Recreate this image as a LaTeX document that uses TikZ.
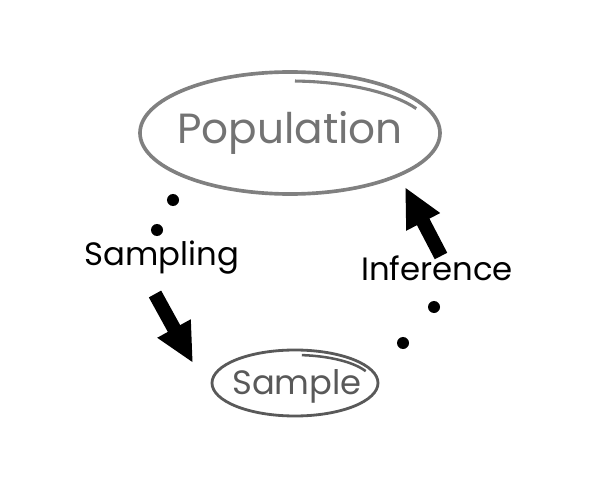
\documentclass[tikz,border=0pt]{standalone}
\usepackage{fontspec}
\setmainfont{Poppins}
\usetikzlibrary{arrows.meta}

\begin{document}
\begin{tikzpicture}[x=0.025cm, y=-0.025cm, ring/.style={draw=black!50, line width=2.6pt}, mark dot/.style={fill=black, circle, inner sep=0pt, minimum size=0.3cm}, bigarrow/.style={line width=10pt, -{Triangle[width=25pt,length=28pt]}}, label text/.style={font=\fontsize{23}{26}\selectfont}]
\useasboundingbox (0,0) rectangle (600,479);
\node[text=black!55, font=\fontsize{30}{34}\selectfont] (pop) at (290,133) {Population};
\draw[ring] (pop.center) ellipse[x radius=150, y radius=61];
\draw[ring, line width=2.2pt] (pop.center) ++(-88:143 and 52) arc[start angle=-88, end angle=-28, x radius=143, y radius=52];
\node[text=black!65, font=\fontsize{24}{28}\selectfont] (samp) at (297,386) {Sample};
\draw[ring, draw=black!65, line width=2pt] (295,383) ellipse[x radius=83, y radius=33];
\draw[ring, draw=black!65, line width=1.8pt] (295,383) ++(-85:78 and 28) arc[start angle=-85, end angle=-25, x radius=78, y radius=28];
\node[label text] (sampling) at (162,258) {Sampling};
\node[label text] (inference) at (437,268) {Inference};
\node[mark dot] (d1) at (173,200) {};
\node[mark dot] (d2) at (157,230) {};
\node[mark dot] (d3) at (434,307) {};
\node[mark dot] (d4) at (403,343) {};
\coordinate (stail) at (155,294);
\coordinate (stip) at (193,363);
\coordinate (itail) at (441,256);
\coordinate (itip) at (405,187);
\draw[bigarrow] (stail) -- (stip);
\draw[bigarrow] (itail) -- (itip);
\end{tikzpicture}
\end{document}
